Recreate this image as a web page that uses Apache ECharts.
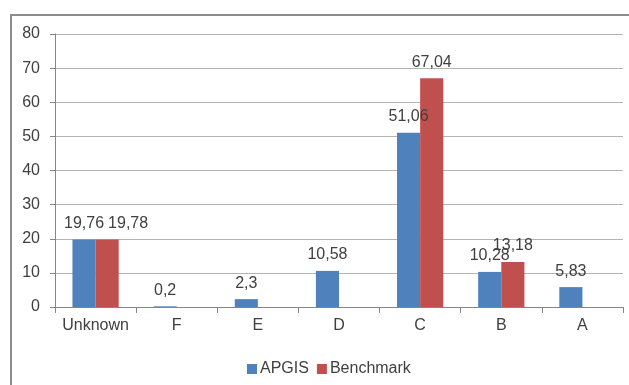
<!DOCTYPE html>
<html>
<head>
<meta charset="utf-8">
<script src="https://cdn.jsdelivr.net/npm/echarts@6/dist/echarts.min.js"></script>
<style>
html,body{margin:0;padding:0;background:#fff;}
#c{width:629px;height:385px;}
</style>
</head>
<body>
<div id="c"></div>
<script>
var categories = ['Unknown', 'F', 'E', 'D', 'C', 'B', 'A'];
var apgis = [19.76, 0.2, 2.3, 10.58, 51.06, 10.28, 5.83];
var benchmark = [19.78, null, null, null, 67.04, 13.18, null];
var yTicks = [0, 10, 20, 30, 40, 50, 60, 70, 80];

var FONT = 'Liberation Sans';
var TXT = '#404040';
function fmt(p) { return String(p.value).replace('.', ','); }

// label nudges (Excel moved overlapping labels apart)
var benchLabelNudge = { 0: [21, 0] };

function buildData(arr, nudge) {
  return arr.map(function (v, i) {
    var item = { value: v };
    if (nudge && nudge[i]) item.label = { offset: nudge[i] };
    return item;
  });
}

var chart = echarts.init(document.getElementById('c'), null, { renderer: 'canvas' });
chart.setOption({
  animation: false,
  textStyle: { fontFamily: FONT },
  graphic: [{
    type: 'rect',
    shape: { x: 11, y: 15, width: 700, height: 500 },
    style: { fill: 'none', stroke: '#8c8c8c', lineWidth: 2 },
    silent: true
  }],
  grid: { left: 55, right: 6, top: 34, bottom: 78, containLabel: false },
  legend: {
    data: ['APGIS', 'Benchmark'],
    left: 247, top: 361, padding: 0,
    itemWidth: 10, itemHeight: 10, itemGap: 8,
    icon: 'rect',
    textStyle: { fontFamily: FONT, fontSize: 16, color: TXT, padding: [0, 0, 0, -2] }
  },
  xAxis: {
    type: 'category',
    data: categories,
    axisLine: { lineStyle: { color: '#868686', width: 1 } },
    axisTick: { show: true, length: 6, lineStyle: { color: '#868686' } },
    axisLabel: { fontFamily: FONT, fontSize: 16, color: TXT, margin: 11, interval: 0 }
  },
  yAxis: {
    type: 'value',
    min: yTicks[0], max: yTicks[yTicks.length - 1], interval: 10,
    axisLine: { show: true, lineStyle: { color: '#868686', width: 1 } },
    axisTick: { show: true, length: 5, lineStyle: { color: '#868686' } },
    axisLabel: { fontFamily: FONT, fontSize: 16, color: TXT, margin: 15 },
    splitLine: { lineStyle: { color: '#b4b4b4', width: 1 } }
  },
  series: [{
    name: 'APGIS', type: 'bar',
    data: buildData(apgis),
    itemStyle: { color: '#4f81bd' },
    barGap: '0%', barCategoryGap: '43%',
    label: { show: true, position: 'top', distance: 8, formatter: fmt, fontFamily: FONT, fontSize: 16, color: TXT }
  }, {
    name: 'Benchmark', type: 'bar',
    data: buildData(benchmark, benchLabelNudge),
    itemStyle: { color: '#c0504d' },
    barGap: '0%', barCategoryGap: '43%',
    label: { show: true, position: 'top', distance: 8, formatter: fmt, fontFamily: FONT, fontSize: 16, color: TXT }
  }]
});
</script>
</body>
</html>
